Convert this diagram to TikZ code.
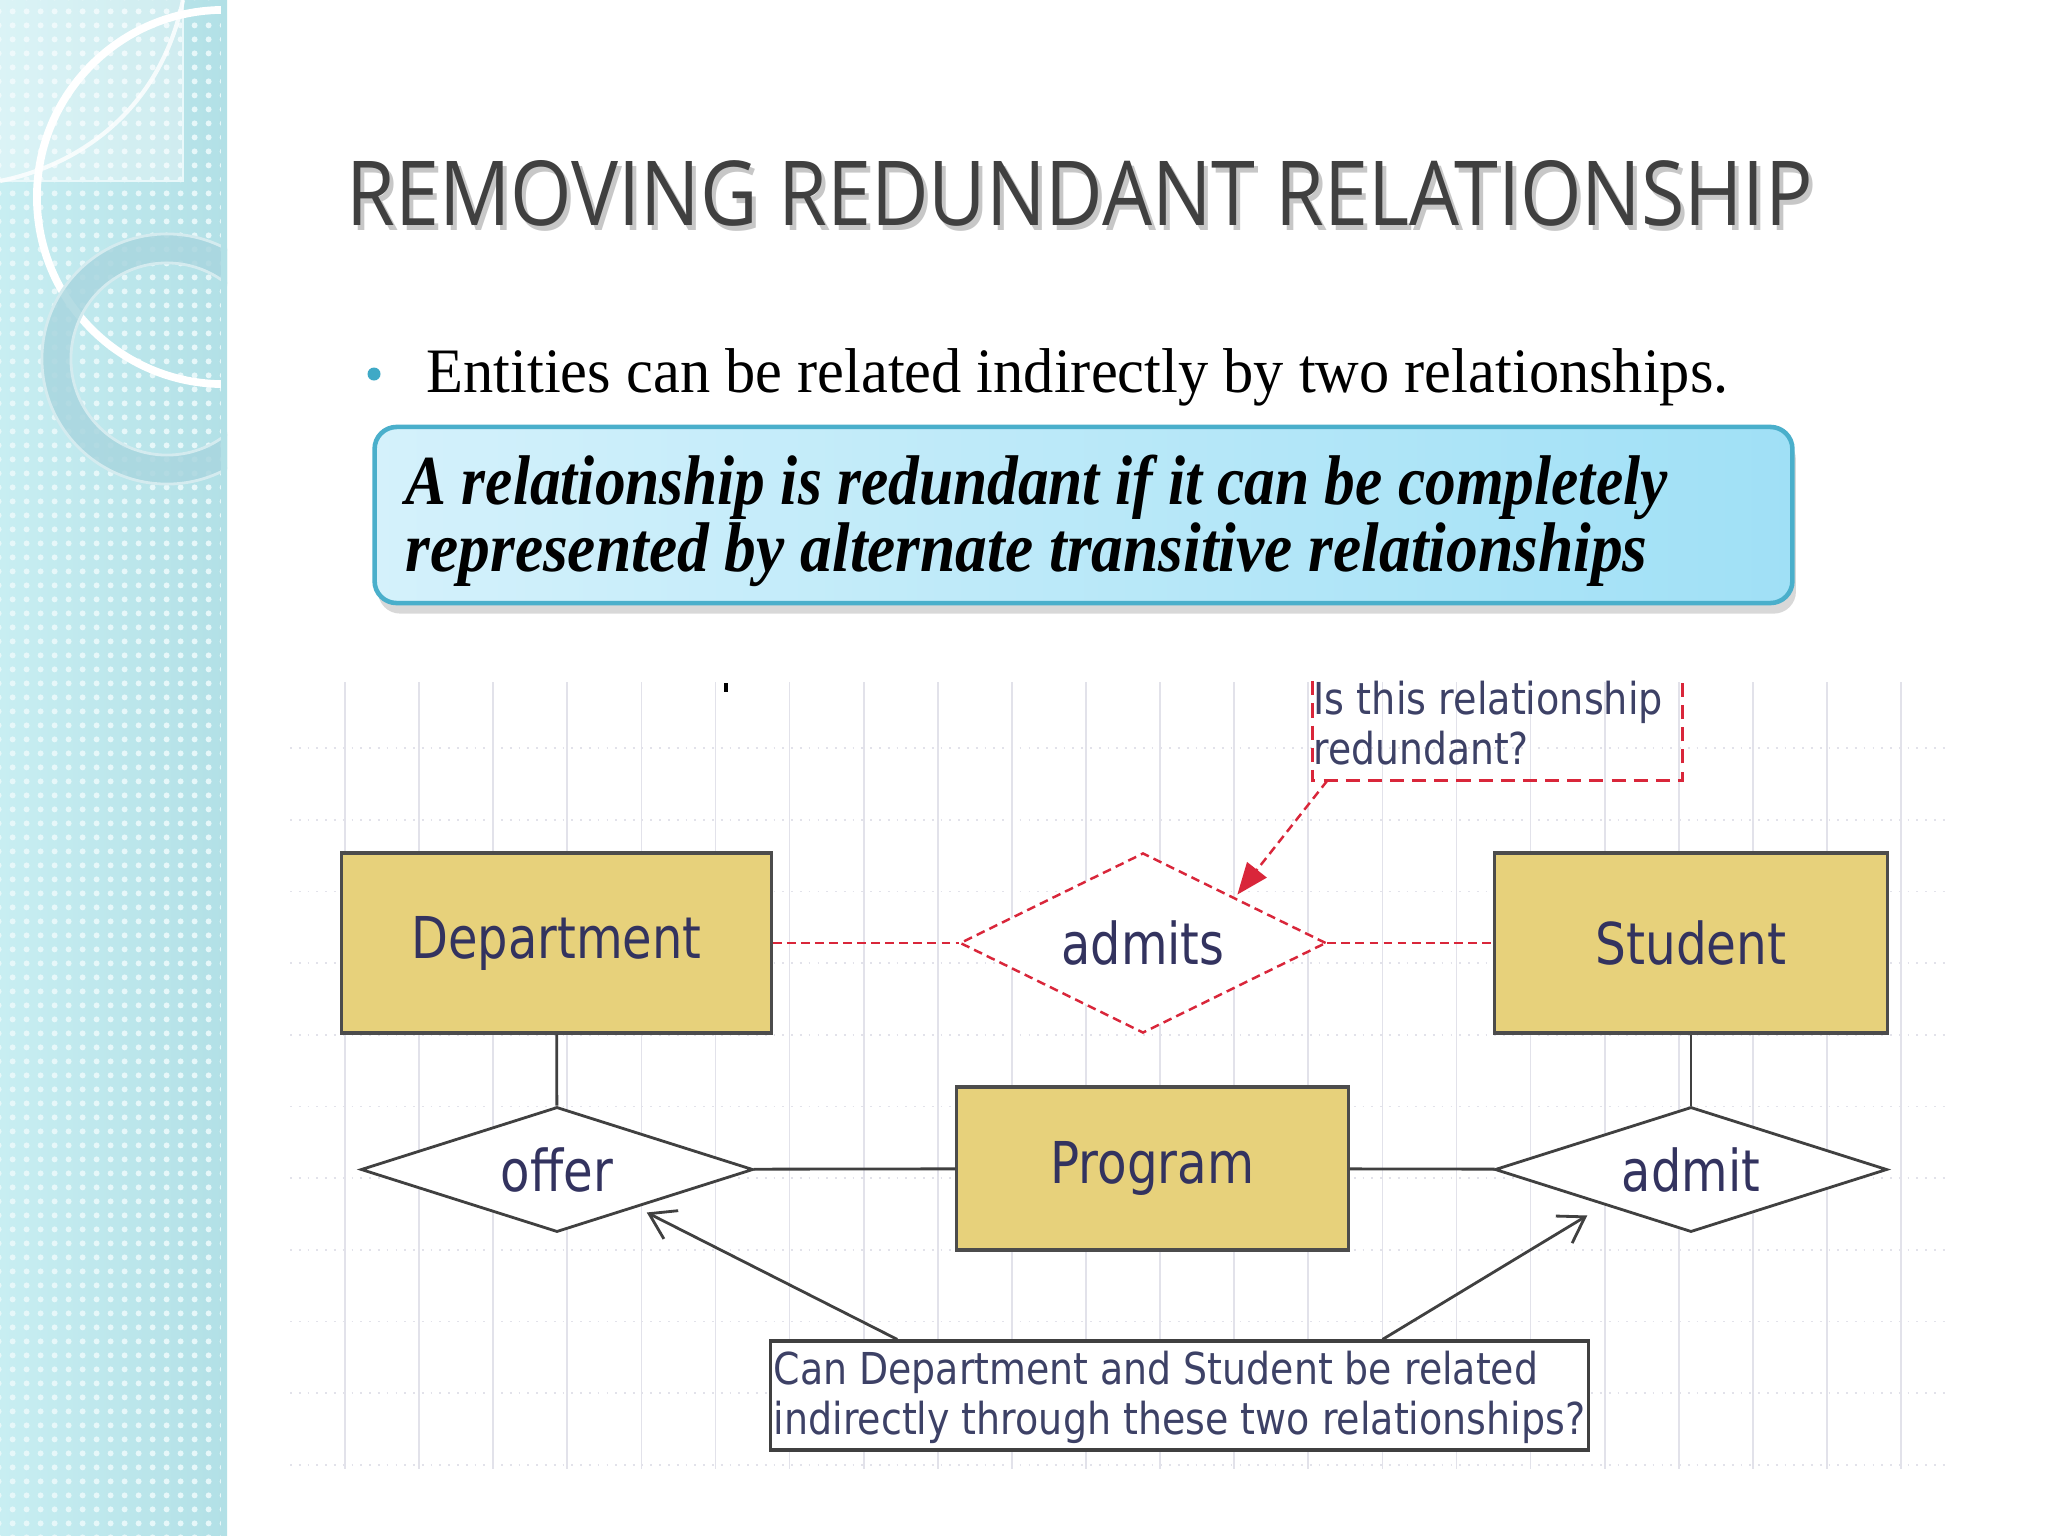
\documentclass[tikz,border=0pt]{standalone}
\usepackage{fontspec}
\usepackage{graphicx}
\setmainfont{Liberation Serif}
\newfontfamily\headfont{Open Sans}
\newfontfamily\erfont{DejaVu Sans}
\usetikzlibrary{shapes.geometric,arrows.meta,positioning,shadows,patterns.meta}

\definecolor{sidebar}{HTML}{C8EEF2}
\definecolor{sideedge}{HTML}{B2E0E6}
\definecolor{ringblue}{HTML}{A9D6DF}
\definecolor{titlegray}{HTML}{404040}
\definecolor{bulletblue}{HTML}{3FA9C6}
\definecolor{boxleft}{HTML}{D4F1FB}
\definecolor{boxright}{HTML}{A0E0F6}
\definecolor{boxline}{HTML}{4AAFCB}
\definecolor{entfill}{HTML}{E7D17B}
\definecolor{ertext}{HTML}{33335F}
\definecolor{notetext}{HTML}{3D4166}
\definecolor{gridgray}{HTML}{E2E2EA}
\definecolor{notered}{HTML}{D9263A}

% squeeze a line to a given width, keep its height
\newcommand{\fitx}[2]{\resizebox{#1}{\height}{#2}}

\begin{document}
\begin{tikzpicture}[x=0.01cm,y=-0.01cm,
    entity/.style={rectangle,draw=black!70,line width=0.9pt,fill=entfill,inner sep=0pt,minimum height=1.8cm,text=ertext,font=\erfont\fontsize{16.4}{20}\selectfont},
    rel/.style={diamond,aspect=3,draw=black!75,line width=0.8pt,fill=white,inner sep=0pt,text=ertext,font=\erfont\fontsize{16.4}{20}\selectfont},
    erlink/.style={draw=black!75,line width=0.8pt},
    redlink/.style={draw=notered,line width=0.7pt,dash pattern=on 2.5pt off 1.5pt},
    notetext/.style={inner sep=0pt,anchor=base west,text=notetext,font=\erfont\fontsize{12.5}{15}\selectfont},
    gridline/.style={draw=gridgray,line width=0.5pt}]
\useasboundingbox (0,0) rectangle (2048,1536);
\fill[white] (0,0) rectangle (2048,1536);

% side bar
\begin{scope}
  \clip (0,0) rectangle (227,1536);
  \fill[left color=sidebar,right color=sideedge] (0,0) rectangle (227,1536);
  \fill[pattern={Dots[radius=0.9pt,distance=4pt]},pattern color=white!55!sidebar] (0,0) rectangle (227,1536);
  \fill[white,opacity=0.35] (0,0) rectangle (183,181);
  \draw[white!60!sidebar,line width=0.8pt] (183,0) -- (183,181) -- (0,181);
  \draw[white,line width=1.2pt,opacity=0.8] (183,0) .. controls (160,110) and (80,165) .. (0,181);
  \draw[white,line width=2.2pt] (224,197) circle[radius=1.87cm];
  \fill[ringblue,even odd rule,opacity=0.85] (167,359) circle[radius=1.25cm] (167,359) circle[radius=0.96cm];
  \draw[white!50!ringblue,line width=0.8pt] (167,359) circle[radius=1.25cm] (167,359) circle[radius=0.96cm];
  \fill[sideedge] (221,0) rectangle (227,1536);
\end{scope}

% title and bullet
\node[inner sep=0pt,anchor=base west,text=black!22] at (350,230) {\fitx{14.65cm}{\headfont\fontsize{25.5}{30}\selectfont REMOVING REDUNDANT RELATIONSHIP}};
\node[inner sep=0pt,anchor=base west,text=titlegray] (title) at (346,225) {\fitx{14.65cm}{\headfont\fontsize{25.5}{30}\selectfont REMOVING REDUNDANT RELATIONSHIP}};
\fill[bulletblue] (374,374) circle[radius=0.065cm];
\node[inner sep=0pt,anchor=base west] (point) at (426,392) {\fitx{13.01cm}{\fontsize{18}{22}\selectfont Entities can be related indirectly by two relationships.}};

% definition box
\node[rectangle,rounded corners=0.22cm,draw=boxline,line width=1.3pt,left color=boxleft,right color=boxright,minimum width=14.17cm,minimum height=1.76cm,drop shadow={opacity=0.3,shadow xshift=1pt,shadow yshift=-3pt}] (defn) at (1083.5,515) {};
\node[inner sep=0pt,anchor=base west] at (405,504) {\fitx{12.61cm}{\fontsize{20}{24}\selectfont\bfseries\itshape A relationship is redundant if it can be completely}};
\node[inner sep=0pt,anchor=base west] at (405,571) {\fitx{12.41cm}{\fontsize{20}{24}\selectfont\bfseries\itshape represented by alternate transitive relationships}};

% grid
\foreach \i in {0,...,21}
  \draw[gridline] ({345+74.1*\i},682) -- ({345+74.1*\i},1469);
\foreach \j in {0,...,10}
  \draw[gridline,dotted] (290,{748+71.7*\j}) -- (1946,{748+71.7*\j});
\fill[black] (724,683) rectangle (728,692);

% ER diagram
\node[entity,minimum width=4.29cm] (dept) at (556.5,943) {\fitx{2.90cm}{Department}};
\node[rel,aspect=2,draw=notered,line width=0.7pt,dash pattern=on 2.5pt off 1.5pt,minimum width=3.66cm,minimum height=1.8cm] (admits) at (1143,943) {\fitx{1.63cm}{admits}};
\node[entity,minimum width=3.92cm] (student) at (1691,943) {\fitx{1.91cm}{Student}};
\node[rel,minimum width=3.92cm,minimum height=1.25cm] (offer) at (557,1169.5) {\fitx{1.12cm}{offer}};
\node[entity,minimum width=3.91cm,minimum height=1.63cm] (prog) at (1152.5,1168.5) {\fitx{2.04cm}{Program}};
\node[rel,minimum width=3.92cm,minimum height=1.25cm] (admit) at (1691,1169.5) {\fitx{1.38cm}{admit}};

\draw[redlink] (dept) -- (admits);
\draw[redlink] (admits) -- (student);
\draw[erlink] (dept) -- (offer);
\draw[erlink] (offer) -- (prog);
\draw[erlink] (prog) -- (admit);
\draw[erlink] (student) -- (admit);

% question about admits
\node[minimum width=3.69cm,minimum height=0.98cm,inner sep=0pt] (note1) at (1497.5,731) {};
\draw[notered,line width=0.8pt,dash pattern=on 4pt off 2.3pt] (note1.north west) -- (note1.south west) -- (note1.south east) -- (note1.north east);
\node[notetext] at (1313,714) {\fitx{3.49cm}{Is this relationship}};
\node[notetext] at (1313,764) {\fitx{2.15cm}{redundant?}};
\coordinate (q0) at ([xshift=0.15cm]note1.south west);
\draw[redlink,-{Triangle[length=9pt,width=7pt]},shorten >=1pt] (q0) -- (admits.north east);

% question about offer / admit
\node[rectangle,draw=black!75,line width=0.9pt,fill=white,minimum width=8.17cm,minimum height=1.09cm,inner sep=0pt] (note2) at (1179.5,1395.5) {};
\node[notetext] at (773,1384) {\fitx{7.64cm}{Can Department and Student be related}};
\node[notetext] at (773,1434) {\fitx{8.11cm}{indirectly through these two relationships?}};
\coordinate (q1) at ([xshift=1.28cm]note2.north west);
\coordinate (q2) at ([xshift=6.13cm]note2.north west);
\draw[erlink,-{Straight Barb[length=7pt,width=9pt]}] (q1) -- ([xshift=-0.09cm,yshift=-0.11cm]offer.south east);
\draw[erlink,-{Straight Barb[length=7pt,width=9pt]}] (q2) -- ([xshift=-0.05cm,yshift=-0.14cm]admit.south west);
\end{tikzpicture}
\end{document}
